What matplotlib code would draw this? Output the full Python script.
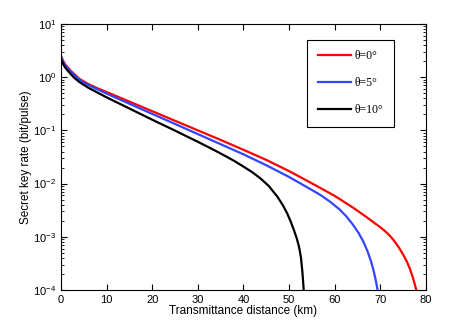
import matplotlib
matplotlib.use("Agg")
import matplotlib.pyplot as plt
import numpy as np
from matplotlib.ticker import LogLocator, NullFormatter

plt.rcParams['font.family'] = ['Liberation Sans', 'DejaVu Sans']

# distance (km) and log10 of secret key rate (bit/pulse)
dist_0 = [0, 0.5, 1, 2, 3, 4, 6, 8, 10, 15, 20, 25, 30, 35, 40, 45, 50, 55,
          60, 64, 67, 70, 71, 72, 73, 74, 75, 75.8, 76.5, 77.1, 77.6, 77.9,
          78.1]
lg_rate_0 = [0.40, 0.30, 0.23, 0.13, 0.05, -0.03, -0.13, -0.21, -0.28, -0.46,
             -0.64, -0.82, -1.00, -1.18, -1.365, -1.555, -1.765, -1.995,
             -2.23, -2.45, -2.63, -2.82, -2.89, -2.97, -3.07, -3.19, -3.33,
             -3.46, -3.60, -3.75, -3.90, -4.00, -4.08]

dist_5 = [0, 0.5, 1, 2, 3, 4, 6, 8, 10, 15, 20, 25, 30, 35, 40, 45, 50, 55,
          57, 59, 61, 62.5, 64, 65.2, 66.3, 67.2, 67.9, 68.5, 69.0, 69.4, 69.6]
lg_rate_5 = [0.38, 0.28, 0.21, 0.11, 0.03, -0.05, -0.15, -0.23, -0.31, -0.50,
             -0.69, -0.88, -1.07, -1.26, -1.45, -1.655, -1.875, -2.12, -2.22,
             -2.34, -2.48, -2.61, -2.77, -2.92, -3.09, -3.27, -3.44, -3.62,
             -3.81, -3.99, -4.10]

dist_10 = [0, 0.5, 1, 2, 3, 4, 6, 8, 10, 15, 20, 25, 30, 33, 36, 38, 40, 42,
           43.7, 45.5, 47.4, 48.6, 49.6, 50.4, 51.1, 51.7, 52.2, 52.6, 52.9,
           53.1, 53.25]
lg_rate_10 = [0.34, 0.24, 0.17, 0.07, -0.02, -0.09, -0.20, -0.29, -0.38,
              -0.59, -0.80, -1.005, -1.215, -1.345, -1.48, -1.575, -1.68,
              -1.79, -1.90, -2.04, -2.24, -2.40, -2.56, -2.72, -2.88, -3.03,
              -3.19, -3.38, -3.63, -3.85, -4.05]

labels = ['θ=0°', 'θ=5°', 'θ=10°']
colors = ['#ff0000', '#3344ff', '#000000']

fig = plt.figure(figsize=(4.69, 3.27), dpi=100)
ax = fig.add_axes([0.130, 0.113, 0.778, 0.814])

for d, lr, lab, c in zip([dist_0, dist_5, dist_10],
                         [lg_rate_0, lg_rate_5, lg_rate_10], labels, colors):
    ax.semilogy(d, 10.0 ** np.array(lr), color=c, lw=1.6, label=lab)

ax.set_xlim(0, 80)
ax.set_ylim(1e-4, 1e1)
ax.set_xticks(range(0, 81, 10))
ax.yaxis.set_minor_locator(LogLocator(base=10, subs=range(2, 10)))
ax.yaxis.set_minor_formatter(NullFormatter())
ax.tick_params(which='both', direction='in', top=True, right=True, labelsize=8)
ax.tick_params(which='major', length=4)
ax.tick_params(which='minor', length=2)

ax.set_xlabel('Transmittance distance (km)', fontsize=8.5, labelpad=0)
ax.set_ylabel('Secret key rate (bit/pulse)', fontsize=8.5, labelpad=1)

leg = ax.legend(loc='upper right', bbox_to_anchor=(0.912, 0.94),
                borderaxespad=0,
                prop={'family': 'Liberation Serif', 'size': 8.5},
                fancybox=False, edgecolor='black', framealpha=1,
                handlelength=2.8, labelspacing=1.25, borderpad=0.9,
                handletextpad=0.3)
leg.get_frame().set_linewidth(0.8)

fig.savefig('out.png', dpi=100)
